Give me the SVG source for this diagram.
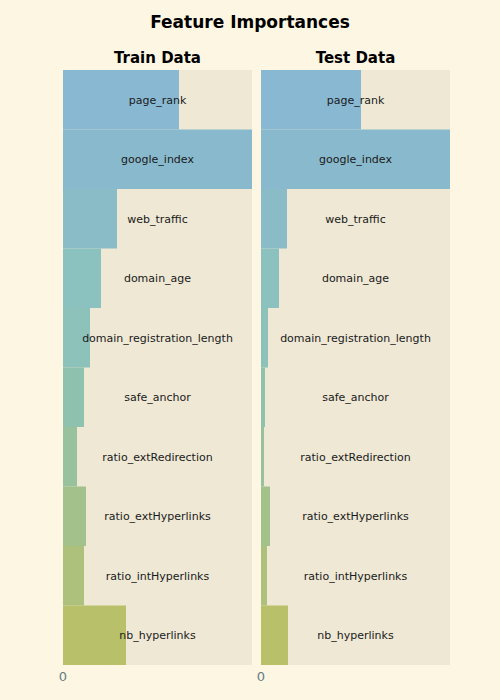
<svg xmlns="http://www.w3.org/2000/svg" width="500" height="700" viewBox="0 0 500 700">
<style>
.t{font-family:"DejaVu Sans",sans-serif;font-weight:bold;fill:#000;text-anchor:middle}
.lb{font-family:"DejaVu Sans",sans-serif;font-size:11px;fill:#1a1a1a;text-anchor:middle}
.tk{font-family:"DejaVu Sans",sans-serif;font-size:13px;fill:#657b83;text-anchor:middle}
.pn{fill:#eee8d5}
</style>
<rect width="500" height="700" fill="#fdf6e3"/>
<text class="t" x="250" y="28" font-size="17">Feature Importances</text>
<text class="t" x="157.5" y="63" font-size="15">Train Data</text>
<text class="t" x="355.5" y="63" font-size="15">Test Data</text>
<g id="train">
<rect class="pn" x="63" y="70" width="189" height="595"/>
<rect x="63" y="70" width="116" height="59.5" fill="#89b8d3"/>
<rect x="63" y="129.5" width="189" height="59.5" fill="#89b9cc"/>
<rect x="63" y="189" width="54" height="59.5" fill="#89bcc7"/>
<rect x="63" y="248.5" width="38" height="59.5" fill="#8bc1bf"/>
<rect x="63" y="308" width="27" height="59.5" fill="#8cc2ba"/>
<rect x="63" y="367.5" width="21" height="59.5" fill="#8fc2ae"/>
<rect x="63" y="427" width="14" height="59.5" fill="#98c29e"/>
<rect x="63" y="486.5" width="23" height="59.5" fill="#a2c18b"/>
<rect x="63" y="546" width="21" height="59.5" fill="#aec17c"/>
<rect x="63" y="605.5" width="63" height="59.5" fill="#b8c16a"/>
</g>
<g id="test">
<rect class="pn" x="261" y="70" width="189" height="595"/>
<rect x="261" y="70" width="100" height="59.5" fill="#89b8d3"/>
<rect x="261" y="129.5" width="189" height="59.5" fill="#89b9cc"/>
<rect x="261" y="189" width="26" height="59.5" fill="#89bcc7"/>
<rect x="261" y="248.5" width="18" height="59.5" fill="#8bc1bf"/>
<rect x="261" y="308" width="7" height="59.5" fill="#8cc2ba"/>
<rect x="261" y="367.5" width="4" height="59.5" fill="#8fc2ae"/>
<rect x="261" y="427" width="3" height="59.5" fill="#98c29e"/>
<rect x="261" y="486.5" width="9" height="59.5" fill="#a2c18b"/>
<rect x="261" y="546" width="6" height="59.5" fill="#aec17c"/>
<rect x="261" y="605.5" width="27" height="59.5" fill="#b8c16a"/>
</g>
<g id="labels">
<text class="lb" x="157.5" y="103.5">page_rank</text>
<text class="lb" x="157.5" y="163">google_index</text>
<text class="lb" x="157.5" y="222.5">web_traffic</text>
<text class="lb" x="157.5" y="282">domain_age</text>
<text class="lb" x="157.5" y="341.5">domain_registration_length</text>
<text class="lb" x="157.5" y="401">safe_anchor</text>
<text class="lb" x="157.5" y="460.5">ratio_extRedirection</text>
<text class="lb" x="157.5" y="520">ratio_extHyperlinks</text>
<text class="lb" x="157.5" y="579.5">ratio_intHyperlinks</text>
<text class="lb" x="157.5" y="639">nb_hyperlinks</text>
<text class="lb" x="355.5" y="103.5">page_rank</text>
<text class="lb" x="355.5" y="163">google_index</text>
<text class="lb" x="355.5" y="222.5">web_traffic</text>
<text class="lb" x="355.5" y="282">domain_age</text>
<text class="lb" x="355.5" y="341.5">domain_registration_length</text>
<text class="lb" x="355.5" y="401">safe_anchor</text>
<text class="lb" x="355.5" y="460.5">ratio_extRedirection</text>
<text class="lb" x="355.5" y="520">ratio_extHyperlinks</text>
<text class="lb" x="355.5" y="579.5">ratio_intHyperlinks</text>
<text class="lb" x="355.5" y="639">nb_hyperlinks</text>
</g>
<text class="tk" x="63" y="681">0</text>
<text class="tk" x="261" y="681">0</text>
</svg>
